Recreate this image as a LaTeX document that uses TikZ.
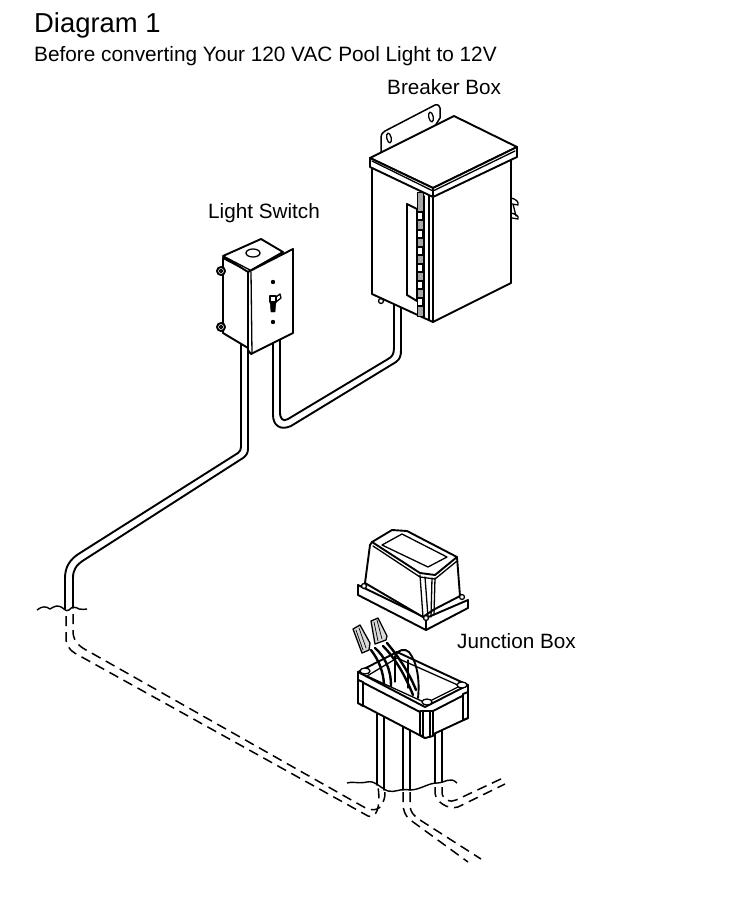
\documentclass[tikz,border=0pt]{standalone}
\usepackage{fontspec}
\setmainfont{Liberation Sans}
\tikzset{
 ln/.style={draw=black,line width=1.9pt,line join=round,line cap=round},
 thin ln/.style={draw=black,line width=1.3pt,line join=round,line cap=round},
 shp/.style={ln,fill=white},
 dsh/.style={draw=black,line width=1.5pt,dash pattern=on 10pt off 6pt},
 gnd/.style={draw=black,line width=1.4pt,line join=round},
 lab/.style={anchor=base west,inner sep=0pt,font=\fontsize{20.7}{24}\selectfont},
 knuckle/.style={draw=black,line width=1.1pt,fill=white},
 wire/.style={draw=black,line width=2.4pt,line cap=round}
}
\begin{document}
\begin{tikzpicture}[x=1pt,y=-1pt]
\useasboundingbox[fill=white] (0,0) rectangle (736,916);
% labels
\node[lab,font=\fontsize{27.4}{30}\selectfont] (title) at (34,32) {Diagram 1};
\node[lab,font=\fontsize{20.8}{24}\selectfont] (sub) at (34,61) {Before converting Your 120 VAC Pool Light to 12V};
\node[lab] (bb) at (387,94) {Breaker Box};
\node[lab] (ls) at (208,218) {Light Switch};
\node[lab] (jb) at (457,648) {Junction Box};
% conduits
\draw[ln] (280,335)--(280,412) .. controls (280,419) and (283,422) .. (288,419)--(388,359) .. controls (392,357) and (394,354) .. (394,348)--(394,305);
\draw[ln] (273,335)--(273,415) .. controls (273,425) and (280,431) .. (291,426)--(396,362) .. controls (400,359) and (401,356) .. (401,350)--(401,305);
\draw[ln] (241,340)--(241,447) .. controls (241,450) and (240,451) .. (238,453)--(80,553) .. controls (70,559) and (65,567) .. (65,578)--(65,609);
\draw[ln] (248,340)--(248,449) .. controls (248,453) and (246,456) .. (243,458)--(84,560) .. controls (76,565) and (73,570) .. (73,578)--(73,608);
% left ground
\draw[gnd] (37,610) .. controls (42,606) and (46,606) .. (50,609) .. controls (55,606) and (58,604) .. (64,609) .. controls (66,611) and (67,611) .. (69,610) .. controls (72,606) and (76,607) .. (79,609) .. controls (82,610) and (85,609) .. (87,609);
% dashes from the left
\draw[dsh] (66,616)--(66,640) .. controls (67,648) and (72,652) .. (80,656)--(368,816) .. controls (376,819) and (381,808) .. (378,787);
\draw[dsh] (73,614)--(73,633) .. controls (74,642) and (80,647) .. (88,651)--(362,806) .. controls (370,811) and (380,812) .. (383,802) .. controls (385,798) and (385,795) .. (385,790);
% junction pipes
\draw[ln] (377,712)--(377,785) (384,715)--(384,790) (403,722)--(403,790) (410,725)--(410,790) (435,733)--(435,783) (442,730)--(442,782);
\draw[gnd] (347,783) .. controls (352,781) and (358,784) .. (367,782) .. controls (375,780) and (380,788) .. (388,791) .. controls (395,793) and (400,788) .. (410,790) .. controls (420,790) and (428,783) .. (437,783) .. controls (445,783) and (450,776) .. (457,783);
% center and right dashes
\draw[dsh] (403,792)--(403,803) .. controls (403,810) and (405,815) .. (409,819)--(468,862);
\draw[dsh] (410,792)--(410,805) .. controls (410,812) and (414,816) .. (420,820)--(481,859);
\draw[dsh] (435,787)--(435,793) .. controls (436,802) and (448,810) .. (458,807)--(505,784);
\draw[dsh] (442,787)--(442,793) .. controls (443,800) and (450,803) .. (456,800)--(503,778);
% ---- breaker box
\draw[shp,line width=1.5pt] (381,152)--(381,138) .. controls (381,134) and (383,132) .. (385,131)--(435,105) .. controls (438,104) and (440,106) .. (440,108)--(440,118)--(420,150)--cycle;
\draw[thin ln,rotate around={12:(389,138)}] (389,138) ellipse [x radius=2.2,y radius=5];
\draw[thin ln,rotate around={12:(431,117)}] (431,117) ellipse [x radius=2.2,y radius=5];
\draw[thin ln,fill=white] (381,301) circle (2.5);
\draw[thin ln] (511,198) .. controls (516,199) and (519,202) .. (518,205)--(512,204) (513,204)--(516,216) (511,213) .. controls (516,214) and (519,216) .. (518,219)--(512,218);
\draw[shp] (372,165)--(372,294)--(422,317)--(433,322)--(511,283)--(511,155)--(433,190)--cycle;
\draw[ln,fill=white] (433,322)--(433,197) (424,196)--(424,317) (429,196)--(429,320);
\draw[draw=black,line width=1pt,fill=black!35] (417,192) rectangle (423,316);
\draw[shp] (407,204)--(407,295)--(417,301)--(417,209)--cycle;
\foreach \y in {212,230,247,264,281,298}{
 \draw[knuckle] (417.5,\y) rectangle (423,\y+8);
}
\draw[shp] (370,158)--(454,116)--(517,147)--(433,188)--cycle;
\draw[shp] (370,158)--(370,167)--(433,197)--(433,188)--cycle;
\draw[shp] (433,188)--(433,197)--(517,157)--(517,147)--cycle;
\draw[thin ln] (372,161)--(433,191)--(515,151);
% ---- switch
\draw[shp] (223,258)--(223,333)--(248,348)--(250,272)--cycle;
\foreach \y in {271,327}{
 \draw[ln,fill=white] (221,\y) circle (4);
 \draw[thin ln] (221,\y) circle (1.6);
}
\draw[shp] (223,256)--(261,239)--(283,252)--(248,272)--cycle;
\draw[thin ln] (227,258)--(250,270);
\draw[thin ln] (253,253) ellipse [x radius=7,y radius=4];
\draw[shp] (248,272)--(293,249)--(293,333)--(251,354)--(248,350)--cycle;
\draw[thin ln] (251,272)--(252,354);
\fill (273,282) circle (2.2);
\fill (273,322) circle (2.2);
\draw[thin ln,fill=white] (270,296) rectangle (276,302);
\draw[draw=black,fill=black] (270,302)--(276,302)--(275,312)--(271,312)--cycle;
\draw[thin ln] (276,297)--(280,294)--(281,298)--(276,302);
% ---- junction base
\draw[shp] (358,672)--(397,652)--(468,685)--(468,718)--(425,738)--(358,703)--cycle;
\draw[thin ln,fill=white] (367,676)--(397,658)--(460,686)--(426,703)--cycle;
% back post
\draw[thin ln] (395,656)--(395,682) (408,660)--(408,688);
\draw[wire,line width=1.9pt] (395,655) .. controls (398,650) and (405,648) .. (409,652) .. controls (417,662) and (420,680) .. (418,698);
\draw[wire] (371,650) .. controls (380,662) and (383,672) .. (384,684);
\draw[wire] (375,648) .. controls (384,656) and (391,668) .. (391,686);
\draw[wire] (383,646) .. controls (395,658) and (405,675) .. (413,695);
\draw[wire] (387,643) .. controls (397,655) and (408,670) .. (416,690);
% wire nuts
\draw[shp,line width=1.3pt,fill=black!15] (353,629)--(360,625)--(370,643)--(369,650)--(362,653)--cycle;
\draw[thin ln,line width=.7pt] (356,630)--(363,650) (359,628)--(366,648);
\draw[shp,line width=1.3pt,fill=black!15] (371,621)--(378,618)--(387,636)--(386,640)--(375,644)--cycle;
\draw[thin ln,line width=.7pt] (374,622)--(378,641) (377,620)--(382,639);
% base rim and posts
\draw[ln] (358,672)--(425,707)--(468,685);
\draw[ln] (358,680)--(420,712);
\draw[ln] (433,711)--(468,693);
\draw[shp] (358,680)--(363,682)--(363,706)--(358,703)--cycle;
\draw[shp] (463,694)--(468,692)--(468,718)--(463,720)--cycle;
\draw[shp] (420,711)--(433,711)--(433,736)--(425,738)--(420,735)--cycle;
\draw[thin ln] (423,712)--(423,737) (430,712)--(430,737);
\draw[thin ln,fill=white] (365,671) ellipse [x radius=5,y radius=3];
\draw[thin ln,fill=white] (462,685) ellipse [x radius=5,y radius=3];
\draw[thin ln,fill=white] (427,702) ellipse [x radius=5,y radius=3];
% ---- lid
\draw[shp] (358,585)--(426,618)--(468,600)--(468,608)--(426,630)--(358,595)--cycle;
\draw[thin ln,fill=white] (426,618)--(426,630);
\draw[shp] (365,583)--(370,545)--(372,542)--(392,530)--(407,531)--(457,557)--(460,596)--(433,610)--(423,617)--cycle;
\draw[ln] (372,542)--(420,573)--(435,575)--(457,557);
\draw[thin ln] (373,546)--(420,577)--(435,579)--(457,561);
\draw[thin ln] (382,545)--(402,534)--(447,557)--(428,567)--cycle;
\draw[thin ln] (420,575)--(423,617) (425,577)--(428,617) (432,578)--(431,617) (435,578)--(434,615);
\draw[thin ln,fill=white] (364,586) circle (2.5);
\draw[thin ln,fill=white] (462,597) circle (2.5);
\draw[thin ln,fill=white] (426,618) circle (2.5);
\end{tikzpicture}
\end{document}
